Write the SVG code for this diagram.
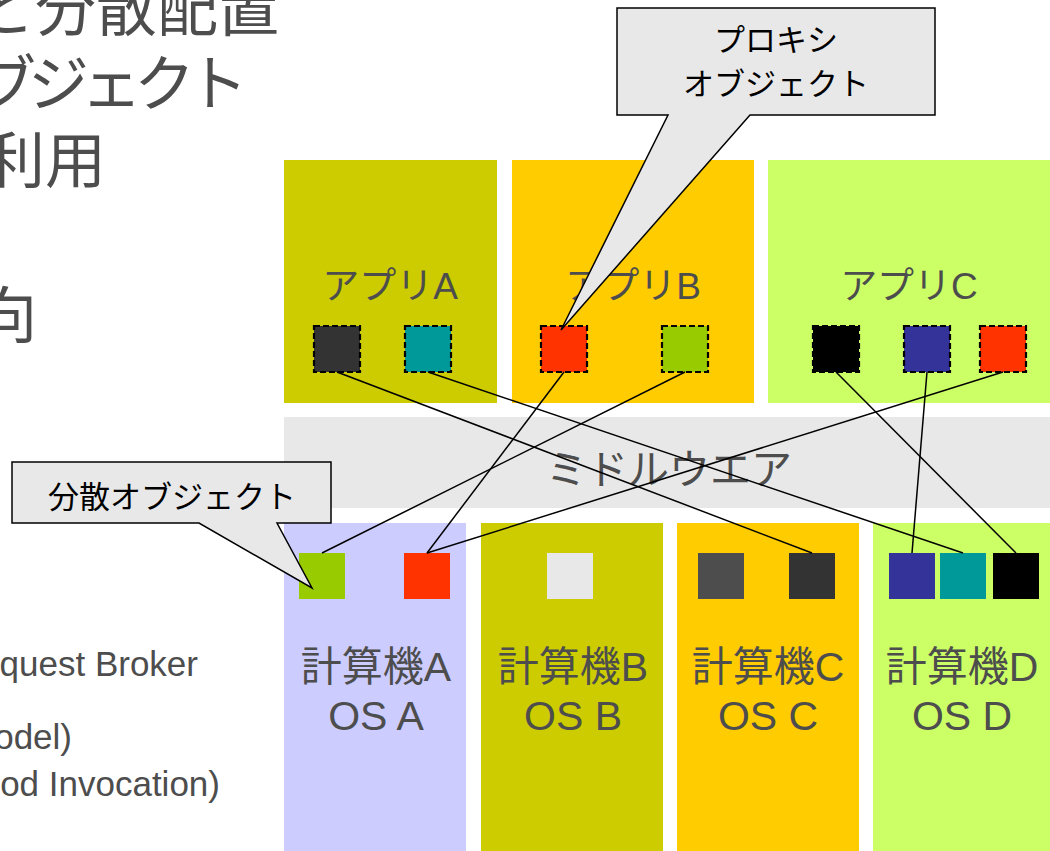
<svg xmlns="http://www.w3.org/2000/svg" width="1050" height="851" viewBox="0 0 1050 851">
<style>
.bg{font-family:"Liberation Sans","Noto Sans CJK JP",sans-serif;fill:#4d4d4d}
.lbl{font-family:"Liberation Sans","Noto Sans CJK JP",sans-serif;fill:#4d4d4d;text-anchor:middle}
.co{font-family:"Liberation Sans","Noto Sans CJK JP",sans-serif;fill:#000;text-anchor:middle;font-size:31px}
.dsq{stroke:#000;stroke-width:2.2;stroke-dasharray:6 3}
.conn line{stroke:#000;stroke-width:1.5}
.callout{fill:#e8e8e8;stroke:#000;stroke-width:1.5;stroke-linejoin:miter}
</style>
<rect width="1050" height="851" fill="#fff"/>
<g id="slide-text">
<text class="bg" x="279" y="31" font-size="61" text-anchor="end">と分散配置</text>
<text class="bg" x="240" y="106" font-size="61" text-anchor="end" letter-spacing="-8">ブジェクト</text>
<text class="bg" x="106" y="183" font-size="61" text-anchor="end">利用</text>
<text class="bg" x="37" y="338" font-size="61" text-anchor="end">向</text>
<text class="bg" x="198" y="676" font-size="35" text-anchor="end">quest Broker</text>
<text class="bg" x="72" y="749" font-size="35" text-anchor="end">odel)</text>
<text class="bg" x="220" y="796" font-size="35" text-anchor="end">od Invocation)</text>
</g>
<g id="appA">
<rect x="284" y="160" width="213" height="243" fill="#cccc00"/>
<text class="lbl" x="390" y="299" font-size="37">アプリA</text>
<rect class="dsq" x="314" y="326" width="46" height="46" fill="#333333"/>
<rect class="dsq" x="405" y="326" width="46" height="46" fill="#009999"/>
</g>
<g id="appB">
<rect x="512" y="160" width="242" height="243" fill="#ffcc00"/>
<text class="lbl" x="633" y="299" font-size="37">アプリB</text>
<rect class="dsq" x="541" y="326" width="46" height="46" fill="#ff3300"/>
<rect class="dsq" x="662" y="326" width="46" height="46" fill="#99cc00"/>
</g>
<g id="appC">
<rect x="768" y="160" width="282" height="243" fill="#ccff66"/>
<text class="lbl" x="909" y="299" font-size="37">アプリC</text>
<rect class="dsq" x="813" y="326" width="46" height="46" fill="#000000"/>
<rect class="dsq" x="904" y="326" width="46" height="46" fill="#333399"/>
<rect class="dsq" x="980" y="326" width="46" height="46" fill="#ff3300"/>
</g>
<g id="middleware">
<rect x="284" y="417" width="766" height="91" fill="#e8e8e8"/>
<text class="lbl" x="669" y="484" font-size="41">ミドルウエア</text>
</g>
<g id="pcA">
<rect x="284" y="523" width="182" height="328" fill="#ccccff"/>
<rect x="299" y="553" width="46" height="46" fill="#99cc00"/>
<rect x="404" y="553" width="46" height="46" fill="#ff3300"/>
<text class="lbl" x="376" y="681" font-size="41">計算機A</text>
<text class="lbl" x="376" y="730" font-size="41">OS A</text>
</g>
<g id="pcB">
<rect x="481" y="523" width="182" height="328" fill="#cccc00"/>
<rect x="547" y="553" width="46" height="46" fill="#e8e8e8"/>
<text class="lbl" x="573" y="681" font-size="41">計算機B</text>
<text class="lbl" x="573" y="730" font-size="41">OS B</text>
</g>
<g id="pcC">
<rect x="677" y="523" width="182" height="328" fill="#ffcc00"/>
<rect x="698" y="553" width="46" height="46" fill="#4d4d4d"/>
<rect x="789" y="553" width="46" height="46" fill="#333333"/>
<text class="lbl" x="768" y="681" font-size="41">計算機C</text>
<text class="lbl" x="768" y="730" font-size="41">OS C</text>
</g>
<g id="pcD">
<rect x="873" y="523" width="177" height="328" fill="#ccff66"/>
<rect x="889" y="553" width="46" height="46" fill="#333399"/>
<rect x="940" y="553" width="46" height="46" fill="#009999"/>
<rect x="993" y="553" width="46" height="46" fill="#000000"/>
<text class="lbl" x="962" y="681" font-size="41">計算機D</text>
<text class="lbl" x="962" y="730" font-size="41">OS D</text>
</g>
<g id="connectors" class="conn">
<line x1="337" y1="372" x2="812" y2="553"/>
<line x1="428" y1="372" x2="963" y2="553"/>
<line x1="564" y1="372" x2="427" y2="553"/>
<line x1="685" y1="372" x2="322" y2="553"/>
<line x1="836" y1="372" x2="1016" y2="553"/>
<line x1="927" y1="372" x2="912" y2="553"/>
<line x1="1003" y1="372" x2="427" y2="553"/>
</g>
<g id="callout-proxy">
<path class="callout" d="M617,8 H935 V115 H750 L561,330 L668,115 H617 Z"/>
<text class="co" x="776" y="51">プロキシ</text>
<text class="co" x="776" y="95">オブジェクト</text>
</g>
<g id="callout-distributed">
<path class="callout" d="M12,462 H331 V523 H277 L312,588 L199,523 H12 Z"/>
<text class="co" x="172" y="508" font-size="33">分散オブジェクト</text>
</g>
</svg>
